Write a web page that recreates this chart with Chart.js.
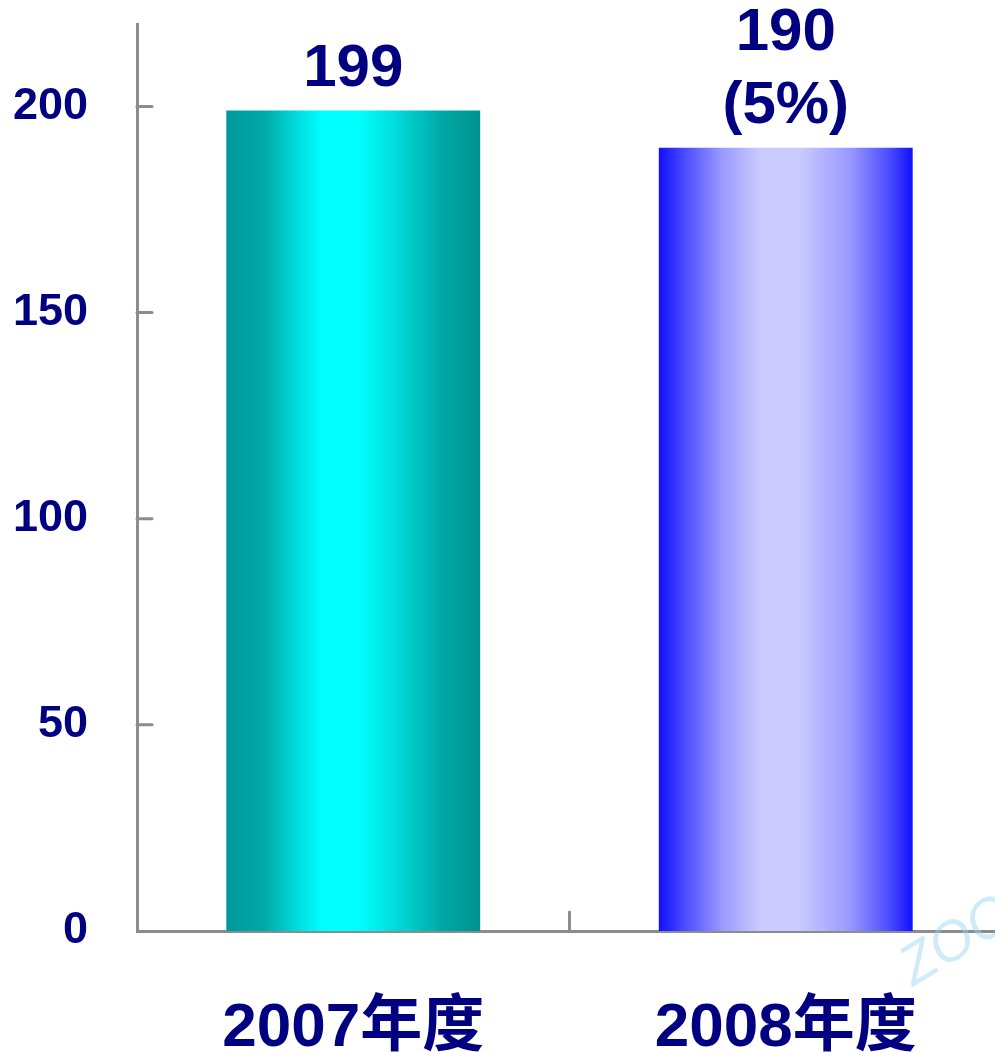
<!DOCTYPE html>
<html>
<head>
<meta charset="utf-8">
<style>
  html, body { margin: 0; padding: 0; background: #fff; overflow: hidden; }
  canvas { display: block; }
</style>
<script src="https://cdn.jsdelivr.net/npm/chart.js@4/dist/chart.umd.min.js"></script>
</head>
<body>
<!-- plot area runs a few pixels past the right edge, as in the original -->
<canvas id="fyChart" width="1002" height="1052"></canvas>
<script>
// data
const categories = ["2007年度", "2008年度"];
const values = [199, 190];
const barLabels = [["199"], ["190", "(5%)"]];
const yTicks = [0, 50, 100, 150, 200];

const NAVY = "#000080";
const AXIS = "#8c8c8c";
const FONT = "'Liberation Sans', 'Noto Sans CJK SC', Arial, sans-serif";

// horizontal "cylinder" shading per bar
const gradientStops = [
  [[0, "#00999a"], [0.15, "#00a9a8"], [0.3, "#00e4e4"], [0.38, "#00ffff"],
   [0.52, "#00ffff"], [0.65, "#00e0e0"], [0.85, "#00a8a6"], [1, "#00928e"]],
  [[0, "#1010ff"], [0.1, "#4a4aff"], [0.25, "#9a9aff"], [0.4, "#cacaff"],
   [0.55, "#cacaff"], [0.75, "#9a9aff"], [0.9, "#5050ff"], [1, "#1010ff"]],
];
const BAR_PCT = 0.587;

function barGradient(context) {
  const chart = context.chart;
  const xs = chart.scales.x;
  if (!chart.chartArea || !xs) return "#888";
  const i = context.dataIndex;
  const cx = xs.getPixelForValue(i);
  const half = (chart.chartArea.width / categories.length) * BAR_PCT / 2;
  const g = chart.ctx.createLinearGradient(cx - half, 0, cx + half, 0);
  gradientStops[i].forEach(([p, c]) => g.addColorStop(p, c));
  return g;
}

// tick marks drawn inward, labels above bars
const decorPlugin = {
  id: "decor",
  afterDraw(chart) {
    const ctx = chart.ctx;
    const { left, right, bottom } = chart.chartArea;
    const ys = chart.scales.y;

    ctx.save();
    ctx.strokeStyle = AXIS;
    ctx.lineWidth = 3;
    ctx.lineCap = "round";

    yTicks.slice(1).forEach((v) => {
      const y = ys.getPixelForValue(v);
      ctx.beginPath();
      ctx.moveTo(left, y);
      ctx.lineTo(left + 15, y);
      ctx.stroke();
    });

    const step = (right - left) / categories.length;
    for (let i = 1; i < categories.length; i++) {
      const x = left + i * step;
      ctx.beginPath();
      ctx.moveTo(x, bottom);
      ctx.lineTo(x, bottom - 19);
      ctx.stroke();
    }

    // value labels
    ctx.fillStyle = NAVY;
    ctx.font = "bold 60px " + FONT;
    ctx.textAlign = "center";
    ctx.textBaseline = "alphabetic";
    const meta = chart.getDatasetMeta(0);
    meta.data.forEach((bar, i) => {
      const lines = barLabels[i];
      let y = bar.y - 25;
      for (let k = lines.length - 1; k >= 0; k--) {
        ctx.fillText(lines[k], bar.x, y);
        y -= 73;
      }
    });

    // faint watermark in the corner
    ctx.translate(965, 955);
    ctx.rotate(-0.55);
    ctx.fillStyle = "rgba(150, 210, 240, 0.45)";
    ctx.font = "italic 56px " + FONT;
    ctx.fillText("ZOO", 0, 0);
    ctx.restore();
  },
};

new Chart(document.getElementById("fyChart"), {
  type: "bar",
  data: {
    labels: categories,
    datasets: [
      {
        data: values,
        backgroundColor: barGradient,
        borderWidth: 0,
        barPercentage: BAR_PCT,
        categoryPercentage: 1,
      },
    ],
  },
  options: {
    responsive: false,
    animation: false,
    layout: { padding: { top: 24, right: 0, left: 0, bottom: 0 } },
    plugins: {
      legend: { display: false },
      tooltip: { enabled: false },
    },
    scales: {
      x: {
        grid: { display: false, drawTicks: false },
        border: { display: true, color: AXIS, width: 3 },
        ticks: {
          color: NAVY,
          padding: 61,
          font: { family: FONT, size: 62, weight: "bold" },
        },
        afterFit(scale) {
          scale.height = 121;
          scale.paddingLeft = 0;
          scale.paddingRight = 0;
        },
      },
      y: {
        min: 0,
        max: 220,
        grid: { display: false, drawTicks: false },
        border: { display: true, color: AXIS, width: 3 },
        ticks: {
          stepSize: 50,
          color: NAVY,
          padding: 49,
          font: { family: FONT, size: 45, weight: "bold" },
        },
        afterBuildTicks(scale) {
          scale.ticks = yTicks.map((v) => ({ value: v }));
        },
        afterFit(scale) {
          scale.width = 137;
          scale.paddingTop = 0;
          scale.paddingBottom = 0;
        },
      },
    },
  },
  plugins: [decorPlugin],
});
</script>
</body>
</html>
